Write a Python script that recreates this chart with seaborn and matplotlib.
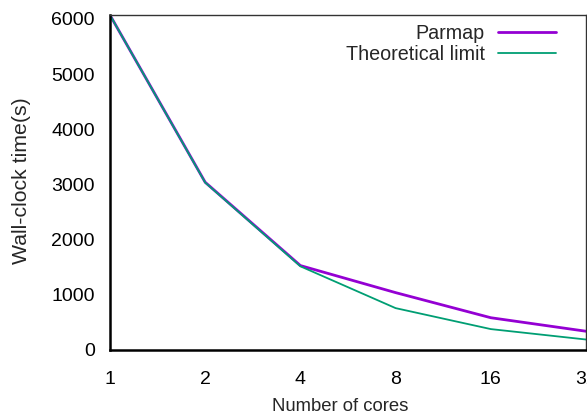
import matplotlib
matplotlib.use("Agg")
import matplotlib.pyplot as plt
import seaborn as sns
import pandas as pd
from matplotlib.lines import Line2D

cores = [1, 2, 4, 8, 16, 32]
parmap = [6070, 3040, 1530, 1040, 585, 340]
theoretical = [6070, 3035, 1517, 759, 379, 190]
series_names = ["Parmap", "Theoretical limit"]
xticklabels = ["1", "2", "4", "8", "16", "32"]
yticks = [0, 1000, 2000, 3000, 4000, 5000, 6000]

df = pd.DataFrame({
    "cores": cores * 2,
    "time": parmap + theoretical,
    "series": [series_names[0]] * len(cores) + [series_names[1]] * len(cores),
})

sns.set_style("white")
plt.rcParams["font.family"] = ["Liberation Sans", "DejaVu Sans"]

fig = plt.figure(figsize=(5.87, 4.16), dpi=100)
ax = fig.add_axes([110 / 587, 1 - 350 / 416, 476 / 587, 335 / 416])

palette = {series_names[0]: "#9400d3", series_names[1]: "#009e73"}
sns.lineplot(data=df, x="cores", y="time", hue="series", palette=palette,
             size="series", sizes={series_names[0]: 2.0, series_names[1]: 1.3},
             ax=ax, legend=False)

ax.set_xscale("log", base=2)
ax.set_xlim(1, 32)
ax.set_ylim(0, 6072)
ax.set_xticks(cores)
ax.set_xticklabels(xticklabels)
ax.minorticks_off()
ax.set_yticks(yticks)
ax.set_xlabel("Number of cores", fontsize=13.3)
ax.set_ylabel("Wall-clock time(s)", fontsize=15.3)
ax.xaxis.set_label_coords((340 - 110) / 476, (350 - 398) / 335)
ax.yaxis.set_label_coords((31 - 110) / 476, (350 - 181) / 335)
ax.tick_params(axis="both", labelsize=14, direction="out", length=7, width=1,
               color="#808080", labelcolor="black")
ax.tick_params(axis="x", pad=8)
ax.tick_params(axis="y", pad=4)

for side in ["left", "bottom"]:
    ax.spines[side].set_color("black")
    ax.spines[side].set_linewidth(1.8)
for side in ["top", "right"]:
    ax.spines[side].set_color("#333333")
    ax.spines[side].set_linewidth(1.0)

handles = [Line2D([], [], color="#9400d3", lw=2.0),
           Line2D([], [], color="#009e73", lw=1.3)]
ax.legend(handles, series_names, loc="upper right", frameon=False,
          markerfirst=False, fontsize=14.2, handlelength=2.9,
          bbox_to_anchor=(555.5 / 587, 1 - 24 / 416),
          bbox_transform=fig.transFigure, borderaxespad=0, borderpad=0,
          labelspacing=0.08, handletextpad=0.7)

fig.savefig("out.png", dpi=100)
